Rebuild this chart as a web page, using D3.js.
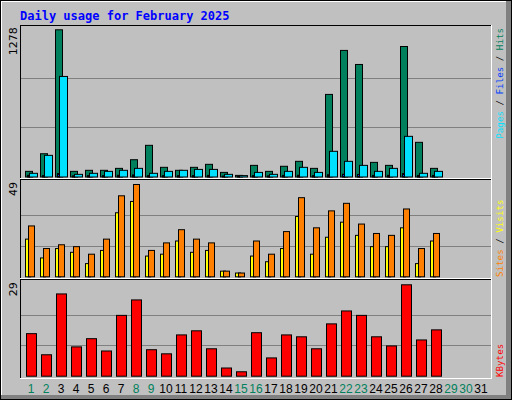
<!DOCTYPE html>
<html><head><meta charset="utf-8">
<script src="https://cdn.jsdelivr.net/npm/d3@7"></script>
<style>body{margin:0;background:#fff}</style></head>
<body><svg id="c" width="512" height="400"></svg>
<script>
const days = d3.range(1, 32);
const weekendDays = [1,2,8,9,15,16,22,23,29,30];
const hits  = [49,202,1278,49,58,58,75,150,275,84,58,84,110,40,14,101,49,93,136,75,717,1099,977,127,101,1133,301,75];
const files = [32,188,873,23,32,49,58,75,32,49,58,66,66,23,12,40,23,49,84,40,223,136,101,49,75,353,32,49];
const pages = [15,12,30,10,12,12,15,18,12,12,12,12,14,8,6,12,10,14,15,12,20,24,22,14,15,30,14,14];
const visits= [27,15,17,16,12,20,43,49,14,18,25,20,18,3,2,19,12,24,42,26,35,39,28,23,22,36,15,23];
const sites = [20,10,15,13,7,14,34,40,11,12,19,13,14,3,2,11,8,15,32,12,21,29,22,16,16,26,7,19];
const kbytes= [13.5,6.8,26.1,9.3,11.9,8.0,19.3,24.2,8.4,7.1,13.1,14.4,8.7,2.6,1.4,13.8,5.8,13.1,12.5,8.7,16.6,20.7,19.3,12.5,9.6,29,11.5,14.7];
const maxLabels = ["1278","49","29"];

const svg = d3.select("#c");
const mono = "'DejaVu Sans Mono', monospace";
svg.append("rect").attr("x",0.5).attr("y",0.5).attr("width",511).attr("height",399).attr("fill","#c0c0c0").attr("stroke","#000");
svg.append("rect").attr("x",506).attr("y",1).attr("width",5).attr("height",398).attr("fill","#808080");
svg.append("rect").attr("x",1).attr("y",395).attr("width",510).attr("height",4).attr("fill","#808080");
svg.append("line").attr("x1",1).attr("x2",506).attr("y1",1.5).attr("y2",1.5).attr("stroke","#fff");
svg.append("line").attr("x1",1.5).attr("x2",1.5).attr("y1",1).attr("y2",395).attr("stroke","#fff");

svg.append("text").attr("x",20).attr("y",20).attr("fill","#0000ff").attr("font-family",mono)
  .attr("font-weight","bold").attr("font-size",12).text("Daily usage for February 2025");

const x = d3.scaleLinear().domain([1,32]).range([25,490]);
const X0=20, X1=491;
svg.append("line").attr("x1",X0).attr("x2",X1).attr("y1",25.5).attr("y2",25.5).attr("stroke","#000");
svg.append("line").attr("x1",X0+0.5).attr("x2",X0+0.5).attr("y1",25).attr("y2",379).attr("stroke","#000");
svg.append("line").attr("x1",X1+0.5).attr("x2",X1+0.5).attr("y1",25).attr("y2",379).attr("stroke","#fff");
svg.append("line").attr("x1",X0).attr("x2",X1+1).attr("y1",378.5).attr("y2",378.5).attr("stroke","#fff");
[[178.5,"#fff"],[179.5,"#000"],[278.5,"#fff"],[279.5,"#000"]].forEach(([y,c])=>
  svg.append("line").attr("x1",X0).attr("x2",X1).attr("y1",y).attr("y2",y).attr("stroke",c));

const panels = [
  {top:29.3, base:176.5, max:1278},
  {top:184, base:276.3, max:49},
  {top:284.3, base:375.7, max:29}
];
panels.forEach((p,i)=>{
  const h=p.base-p.top;
  [1/3,2/3].forEach(f=>svg.append("line").attr("x1",X0+1).attr("x2",X1).attr("y1",Math.round(p.base-h*f)+0.5)
    .attr("y2",Math.round(p.base-h*f)+0.5).attr("stroke","#808080"));
  p.y=d3.scaleLinear().domain([0,p.max]).range([p.base,p.top]);
  svg.append("text").attr("transform",`translate(17,${p.top-2}) rotate(-90)`).attr("text-anchor","end")
    .attr("font-family","'DejaVu Sans', sans-serif").attr("font-size",11).attr("fill","#000").text(maxLabels[i]);
});

function bars(data, p, dx, w, color){
  svg.append("g").selectAll("rect").data(data).join("rect")
    .attr("x",(d,i)=>x(i+1)+dx+0.5).attr("width",w)
    .attr("y",d=>p.y(d)+0.5).attr("height",d=>Math.max(0,p.y(0)-p.y(d)))
    .attr("fill",color).attr("stroke","#000");
}
bars(hits,panels[0],0,7,"#00805c");
bars(files,panels[0],4,8,"#00e0ff");
bars(pages,panels[0],2,2,"#0040ff");
bars(sites,panels[1],0,5,"#ffff00");
bars(visits,panels[1],3,6,"#ff8000");
bars(kbytes,panels[2],1,10,"#ff0000");

svg.append("g").selectAll("text").data(days).join("text")
  .attr("x",d=>x(d)+6).attr("y",393).attr("text-anchor","middle")
  .attr("font-family","'Liberation Sans', Arial, sans-serif").attr("font-size",12)
  .attr("fill",d=>weekendDays.includes(d)?"#00805c":"#000").text(d=>d);

function vlabel(y, anchor, parts){
  const t=svg.append("text").attr("transform",`translate(503,${y}) rotate(-90)`).attr("text-anchor",anchor)
    .attr("font-family",mono).attr("font-size",9.2);
  parts.forEach(([s,c])=>t.append("tspan").attr("fill",c).text(s));
}
vlabel(28,"end",[["Pages","#00e0ff"],[" / ","#000"],["Files","#0040ff"],[" / ","#000"],["Hits","#00805c"]]);
vlabel(277,"start",[["Sites","#ff8000"],[" / ","#000"],["Visits","#ffff00"]]);
vlabel(377,"start",[["KBytes","#ff0000"]]);
</script></body></html>
